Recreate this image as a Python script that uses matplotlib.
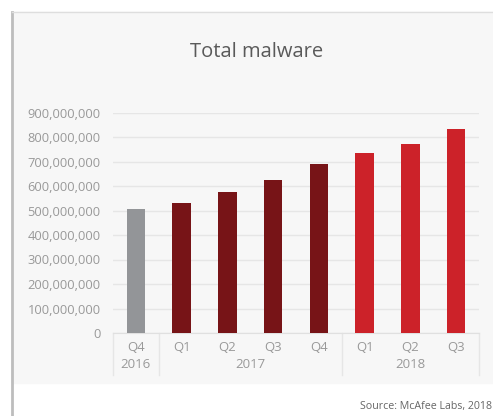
import numpy as np
import matplotlib.pyplot as plt
from matplotlib.patches import Rectangle
from matplotlib.lines import Line2D
from matplotlib.ticker import FuncFormatter

plt.rcParams['font.family'] = ['Open Sans', 'DejaVu Sans']

# data
quarters = ["Q4", "Q1", "Q2", "Q3", "Q4", "Q1", "Q2", "Q3"]
years = ["2016", "2017", "2018"]
year_span = [1, 4, 3]          # how many quarters each year covers
malware = [505e6, 530e6, 574e6, 624e6, 690e6, 733e6, 770e6, 833e6]
bar_colors = ["#939598"] + ["#771417"] * 4 + ["#cc2229"] * 3

W, H = 493, 416
fig = plt.figure(figsize=(W / 100, H / 100), dpi=100, facecolor="white")

# card background + borders
fig.patches.append(Rectangle((12 / W, 1 - 383 / H), 1, (383 - 12) / H,
                             transform=fig.transFigure, color="#f7f7f7", zorder=-5))
fig.add_artist(Line2D([12 / W, 12 / W], [0, 1 - 12 / H], transform=fig.transFigure,
                      color="#bdbdbd", lw=2, zorder=-4))
fig.add_artist(Line2D([12 / W, 1], [1 - 12 / H, 1 - 12 / H], transform=fig.transFigure,
                      color="#dedede", lw=1, zorder=-4))

ax = fig.add_axes([113 / W, 1 - 333 / H, (479 - 113) / W, (333 - 112.5) / H])
ax.set_facecolor("none")

x = np.arange(len(quarters))
ax.bar(x, malware, width=0.4, color=bar_colors, zorder=3)

ax.set_xlim(-0.5, len(quarters) - 0.5)
ax.set_ylim(0, 900e6)
ax.set_yticks(np.arange(0, 900e6 + 1, 100e6))
ax.yaxis.set_major_formatter(FuncFormatter(lambda v, p: f"{int(v):,}"))
ax.tick_params(axis="y", length=0, pad=9, labelsize=9.3, labelcolor="#999999")
ax.grid(axis="y", color="#e6e6e6", lw=1, zorder=0)
ax.set_xticks([])
for s in ["top", "right", "left"]:
    ax.spines[s].set_visible(False)
ax.spines["bottom"].set_color("#e0e0e0")

# two-level category labels
trans = ax.get_xaxis_transform()
for i, q in enumerate(quarters):
    ax.text(i, -0.068, q, transform=trans, ha="center", va="center",
            fontsize=9.5, color="#999999")
edges = np.concatenate([[0], np.cumsum(year_span)]) - 0.5
for j, yr in enumerate(years):
    mid = (edges[j] + edges[j + 1]) / 2
    ax.text(mid, -0.145, yr, transform=trans, ha="center", va="center",
            fontsize=9.5, color="#999999")
for e in edges:
    ax.plot([e, e], [0, -0.19], transform=trans, color="#e6e6e6", lw=1,
            clip_on=False)

fig.text(257 / W, 1 - 52 / H, "Total malware", ha="center", va="center",
         fontsize=14.5, color="#5a5a5a")
fig.text(492 / W, 1 - 407 / H, "Source: McAfee Labs, 2018", ha="right", va="center",
         fontsize=7.7, color="#666666")

fig.savefig("out.png", dpi=100, facecolor="white")
